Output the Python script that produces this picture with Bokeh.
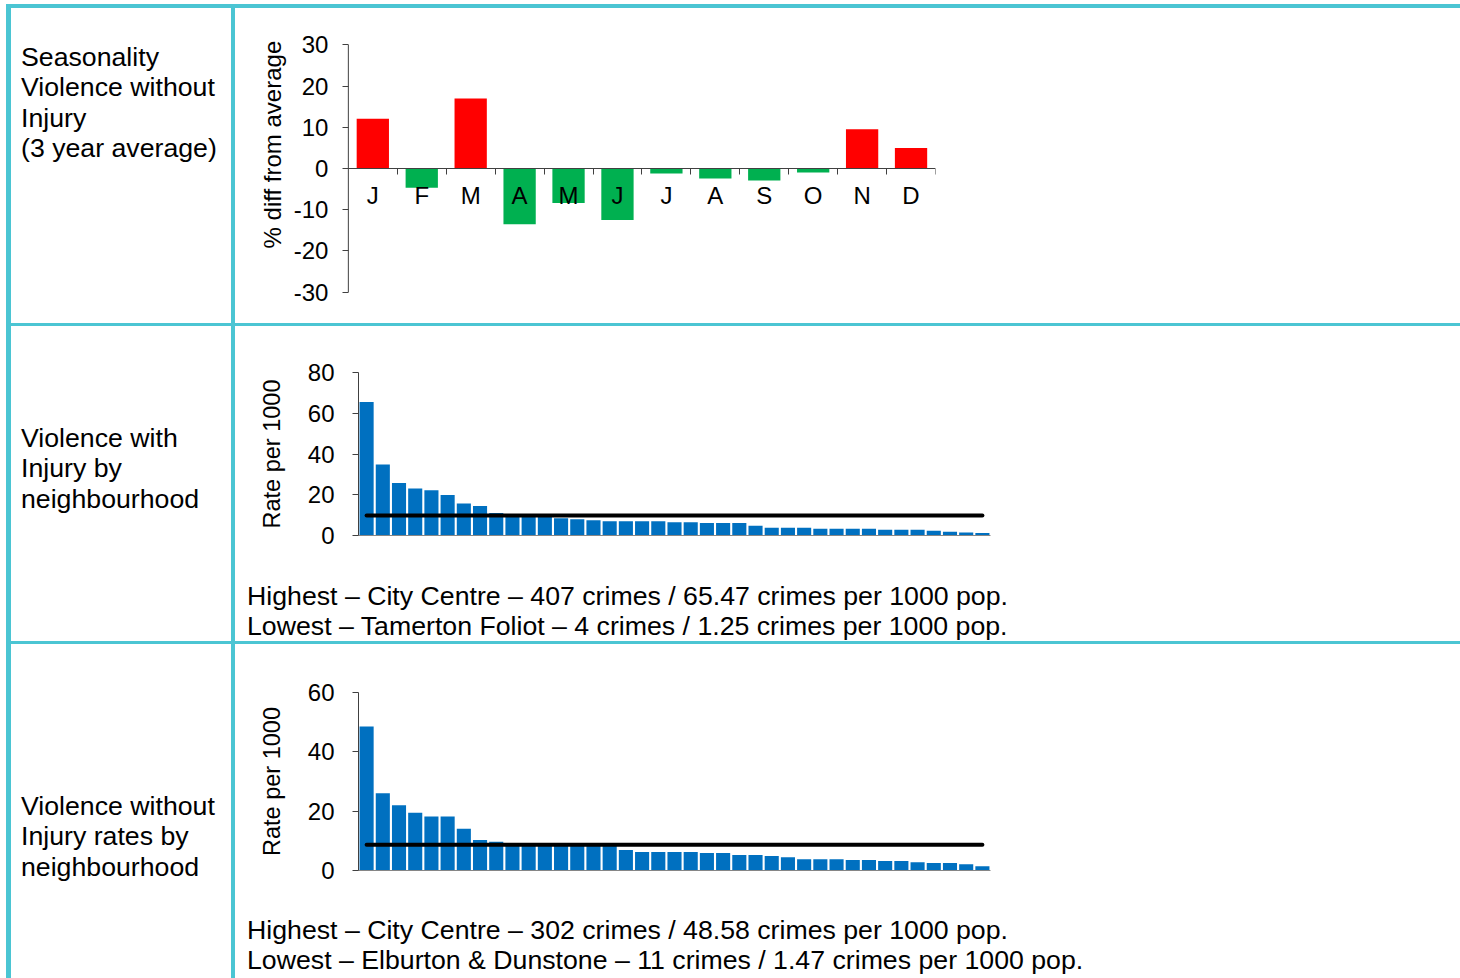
import html
import math
from bokeh.plotting import figure
from bokeh.layouts import row, column
from bokeh.models import Range1d, FixedTicker, ColumnDataSource, Div, Spacer, Label
from bokeh.embed import file_html
from bokeh.resources import INLINE

# ---------------- data ----------------
months = ["J", "F", "M", "A", "M", "J", "J", "A", "S", "O", "N", "D"]
season_pct = [12.1, -4.7, 17.0, -13.5, -8.4, -12.5, -1.2, -2.4, -2.9, -1.0, 9.5, 5.0]
season_ticks = [-30, -20, -10, 0, 10, 20, 30]

with_injury_rates = [65.47, 34.8, 25.8, 23.1, 22.2, 19.9, 15.7, 14.5, 11.0, 10.4,
                     9.9, 9.3, 8.5, 8.0, 7.5, 7.0, 7.0, 7.0, 7.0, 6.5,
                     6.5, 6.1, 6.1, 6.1, 4.8, 3.8, 3.8, 3.8, 3.3, 3.3,
                     3.3, 3.3, 2.8, 2.8, 2.8, 2.3, 1.9, 1.5, 1.25]
with_injury_avg = 9.8
with_injury_ticks = [0, 20, 40, 60, 80]

without_injury_rates = [48.58, 26.05, 22.0, 19.5, 18.2, 18.2, 14.1, 10.3, 9.7, 9.2,
                        9.1, 9.0, 8.9, 8.8, 8.6, 8.4, 6.9, 6.2, 6.2, 6.2,
                        6.2, 5.9, 5.9, 5.2, 5.2, 4.85, 4.5, 3.8, 3.8, 3.8,
                        3.5, 3.5, 3.2, 3.2, 2.8, 2.5, 2.5, 2.1, 1.47]
without_injury_avg = 8.7
without_injury_ticks = [0, 20, 40, 60]

left_texts = [
    ["Seasonality", "Violence without", "Injury", "(3 year average)"],
    ["Violence with", "Injury by", "neighbourhood"],
    ["Violence without", "Injury rates by", "neighbourhood"],
]
summary_with = ["Highest \u2013 City Centre \u2013 407 crimes / 65.47 crimes per 1000 pop.",
                "Lowest \u2013 Tamerton Foliot \u2013 4 crimes / 1.25 crimes per 1000 pop."]
summary_without = ["Highest \u2013 City Centre \u2013 302 crimes / 48.58 crimes per 1000 pop.",
                   "Lowest \u2013 Elburton & Dunstone \u2013 11 crimes / 1.47 crimes per 1000 pop."]

# ---------------- style ----------------
CYAN = "#4BC5D3"
FONT = "Liberation Sans"
RED = "#FF0000"
GREEN = "#00B050"
BLUE = "#0070C0"
AXIS = "#404040"
TICK_FS = "24px"
BODY_FS = "26.7px"

LEFT_W = 220
MID_W = 4
RIGHT_W = 1225
FULL_W = LEFT_W + MID_W + RIGHT_W
H1, H2, H3 = 315, 315, 334


def cyan(w, h):
    return Div(text="", width=w, height=h, margin=0,
               styles={"background-color": CYAN, "overflow": "hidden"})


def text_div(w, h, lines, pad_left, pad_top, line_h):
    body = "<br>".join(html.escape(t) for t in lines)
    inner = (f'<div style="padding-left:{pad_left}px; padding-top:{pad_top}px; '
             f'font-family:\'{FONT}\'; font-size:{BODY_FS}; line-height:{line_h}px; '
             f'color:black; white-space:nowrap; margin:0;">{body}</div>')
    return Div(text=inner, width=w, height=h, margin=0,
               styles={"overflow": "hidden", "background-color": "white"})


def style_yaxis(ax, standoff):
    ax.axis_line_color = AXIS
    ax.major_tick_line_color = AXIS
    ax.major_tick_out = 6
    ax.major_tick_in = 0
    ax.minor_tick_line_color = None
    ax.major_label_text_font = FONT
    ax.major_label_text_font_size = TICK_FS
    ax.major_label_text_color = "black"
    ax.major_label_standoff = standoff


# ---------------- chart 1: seasonality ----------------
# The frame reaches past the value axis (placed at the first category's edge,
# and padded 3 units above/below) so the off-centre axis title and end tick
# labels sit inside it, as in the original.
n_m = len(months)
y_lo, y_hi = season_ticks[0], season_ticks[-1]
p1 = figure(width=RIGHT_W, height=H1, output_backend="svg", toolbar_location=None,
            x_range=Range1d(-2.5, n_m - 0.5),
            y_range=Range1d(y_lo - 3, y_hi + 3),
            min_border_left=15, min_border_right=525, min_border_top=24, min_border_bottom=19)
p1.outline_line_color = None
p1.grid.visible = False
src1 = ColumnDataSource(dict(
    x=list(range(n_m)), top=season_pct,
    color=[RED if v > 0 else GREEN for v in season_pct]))
p1.vbar(x="x", top="top", bottom=0, width=0.66, color="color", line_color=None, source=src1)
# axis lines limited to the data area
p1.segment(x0=[-0.5], y0=[0], x1=[n_m - 0.5], y1=[0], line_color=AXIS, line_width=1)
p1.segment(x0=[-0.5], y0=[y_lo], x1=[-0.5], y1=[y_hi], line_color=AXIS, line_width=1)

xa = p1.xaxis[0]
xa.fixed_location = 0
xa.ticker = FixedTicker(ticks=list(range(n_m)),
                        minor_ticks=[i + 0.5 for i in range(n_m)])
xa.major_label_overrides = {i: m for i, m in enumerate(months)}
xa.axis_line_color = None
xa.major_tick_line_color = None
xa.major_tick_out = 0
xa.major_tick_in = 0
xa.minor_tick_line_color = AXIS
xa.minor_tick_out = 6
xa.minor_tick_in = 0
xa.major_label_text_font = FONT
xa.major_label_text_font_size = TICK_FS
xa.major_label_text_color = "black"
xa.major_label_standoff = 7

ya1 = p1.yaxis[0]
ya1.fixed_location = -0.5
ya1.ticker = FixedTicker(ticks=season_ticks)
ya1.major_label_overrides = {t: str(t) for t in season_ticks}
style_yaxis(ya1, 14)
ya1.axis_line_color = None
p1.add_layout(Label(x=22, x_units="screen", y=5.8, y_units="data",
                    text="% diff from average", angle=math.pi / 2,
                    text_align="center", text_baseline="middle",
                    text_font=FONT, text_font_size="24px", text_color="black"))


# ---------------- neighbourhood charts ----------------
def rate_chart(rates, avg, ticks, height, top_border, bottom_border):
    n = len(rates)
    p = figure(width=RIGHT_W, height=height, output_backend="svg", toolbar_location=None,
               x_range=Range1d(0.5, n + 0.5), y_range=Range1d(ticks[0], ticks[-1]),
               min_border_left=123, min_border_right=470,
               min_border_top=top_border, min_border_bottom=bottom_border)
    p.outline_line_color = None
    p.grid.visible = False
    src = ColumnDataSource(dict(x=list(range(1, n + 1)), top=rates))
    p.vbar(x="x", top="top", bottom=0, width=0.87, color=BLUE, line_color=None, source=src)
    p.line(x=[1, n], y=[avg, avg], line_width=4, line_color="black", line_cap="round")
    ax = p.xaxis[0]
    ax.ticker = FixedTicker(ticks=[])
    ax.axis_line_color = "#868686"
    ax.major_tick_line_color = None
    ax.minor_tick_line_color = None
    ax.major_tick_out = 0
    ya = p.yaxis[0]
    ya.ticker = FixedTicker(ticks=ticks)
    style_yaxis(ya, 18)
    ya.axis_label = "Rate per 1000"
    ya.axis_label_text_font = FONT
    ya.axis_label_text_font_size = "23.5px"
    ya.axis_label_text_font_style = "normal"
    ya.axis_label_text_color = "black"
    ya.axis_label_standoff = 20
    return p


p2 = rate_chart(with_injury_rates, with_injury_avg, with_injury_ticks, 234, 46, 25)
t2 = text_div(RIGHT_W, H2 - 234, summary_with, 12, 21, 30)

p3 = rate_chart(without_injury_rates, without_injury_avg, without_injury_ticks, 246, 48, 20)
t3 = text_div(RIGHT_W, H3 - 246, summary_without, 12, 25, 30)

# ---------------- left column ----------------
l1 = text_div(LEFT_W, H1, left_texts[0], 10, 34, 30.4)
l2 = text_div(LEFT_W, H2, left_texts[1], 10, 97, 30.4)
l3 = text_div(LEFT_W, H3, left_texts[2], 10, 147, 30.4)

layout = column(
    Spacer(width=1460, height=4, margin=0),
    row(
        Spacer(width=6, height=4 + H1 + 3 + H2 + 3 + H3, margin=0),
        cyan(5, 4 + H1 + 3 + H2 + 3 + H3),
        column(
            cyan(FULL_W, 4),
            row(l1, cyan(MID_W, H1), p1),
            cyan(FULL_W, 3),
            row(l2, cyan(MID_W, H2), column(p2, t2)),
            cyan(FULL_W, 3),
            row(l3, cyan(MID_W, H3), column(p3, t3)),
        ),
    ),
)

open("out.html", "w").write(file_html(layout, INLINE))
